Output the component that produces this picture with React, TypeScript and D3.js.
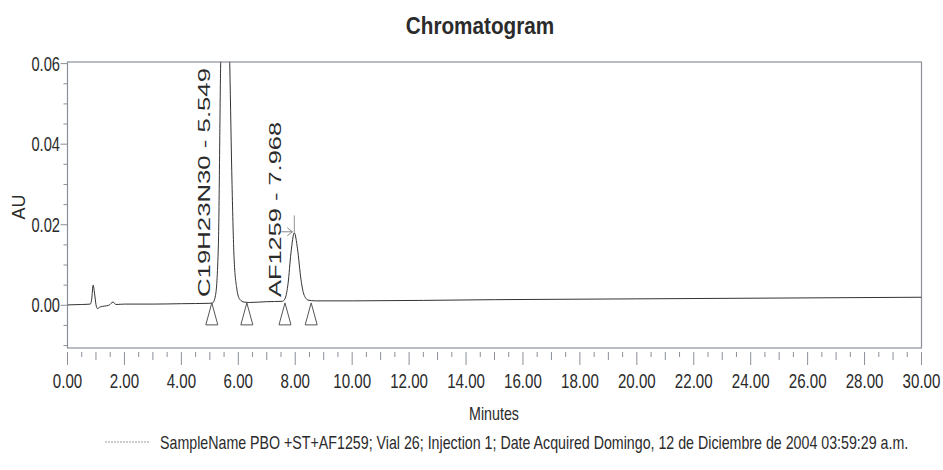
import React from "react";
import * as d3 from "d3";

// Detector trace: retention time (min) and absorbance (AU)
const traceTime = [
  0.0, 0.5, 0.8, 0.85, 0.9, 0.95, 1.0, 1.05, 1.15, 1.3, 1.45, 1.6, 1.7, 2.0, 3.0, 4.0, 5.0,
  5.1, 5.2, 5.3, 5.38, 5.45, 5.549, 5.63, 5.7, 5.78, 5.85, 5.95, 6.05, 6.2, 6.4,
  7.0, 7.55, 7.65, 7.75, 7.85, 7.968, 8.08, 8.2, 8.3, 8.45, 8.7,
  10.0, 15.0, 20.0, 25.0, 30.0,
];
const traceAU = [
  0.0001, 0.0002, 0.0003, 0.0015, 0.005, 0.003, 0.0002, -0.0008, -0.0004, -0.0002, 0.0, 0.0008, 0.0002, 0.0003, 0.0003, 0.0004, 0.0005,
  0.0006, 0.0025, 0.015, 0.06, 0.085, 0.095, 0.085, 0.06, 0.03, 0.012, 0.004, 0.0015, 0.0008, 0.0007,
  0.0009, 0.001, 0.0018, 0.0055, 0.013, 0.018, 0.014, 0.0065, 0.0028, 0.0013, 0.0011,
  0.0011, 0.0014, 0.0016, 0.0018, 0.002,
];

// Integrated peaks
const peakNames = ["C19H23N30", "AF1259"];
const peakRT = [5.549, 7.968];
const peakLabelLen = [229, 175];

// Integration start/end markers (min)
const baselineMarks = [5.07, 6.3, 7.64, 8.56];

// Axis ticks
const xTickLabels = d3.range(0, 30.01, 2);
const yTickLabels = [0.0, 0.02, 0.04, 0.06];

const title = "Chromatogram";
const xTitle = "Minutes";
const yTitle = "AU";
const legendText =
  "SampleName PBO +ST+AF1259; Vial 26; Injection 1; Date Acquired Domingo, 12 de Diciembre de 2004 03:59:29 a.m.";

const W = 943;
const H = 470;
const left = 67.5;
const right = 921.5;
const top = 62;
const bottom = 348;

const font = "'Liberation Sans', Arial, sans-serif";
const axisColor = "#8a8f99";
const textColor = "#2b2b2b";

export default function App() {
  const x = d3.scaleLinear().domain([0, 30]).range([left, right]);
  const y = d3.scaleLinear().domain([-0.0106, 0.0604]).range([bottom, top]);

  const pts: [number, number][] = traceTime.map((t, i) => [t, traceAU[i]]);
  const line = d3
    .line<[number, number]>()
    .x((d) => x(d[0]))
    .y((d) => y(d[1]))
    .curve(d3.curveMonotoneX);

  const xMinor = d3.range(0, 30.001, 0.5);
  const yMinor = d3.range(-0.01, 0.0601, 0.005);

  const peak2Apex = traceAU[traceTime.indexOf(peakRT[1])];

  return (
    <svg width={W} height={H} style={{ display: "block", position: "absolute", left: 0, top: 0, background: "#fff" }}>
      <defs>
        <clipPath id="plotClip">
          <rect x={left} y={top} width={right - left} height={bottom - top} />
        </clipPath>
      </defs>

      <text
        transform={`translate(480,34) scale(0.9,1)`}
        textAnchor="middle"
        fontFamily={font}
        fontWeight="bold"
        fontSize={23}
        fill={textColor}
      >
        {title}
      </text>

      {/* frame */}
      <rect x={left} y={top} width={right - left} height={bottom - top} fill="none" stroke={axisColor} strokeWidth={1.2} />

      {/* y ticks */}
      {yMinor.map((v, i) => {
        const major = yTickLabels.some((t) => Math.abs(t - v) < 1e-9);
        return (
          <line key={"yt" + i} x1={left - (major ? 7 : 4)} x2={left} y1={y(v)} y2={y(v)} stroke={axisColor} strokeWidth={1} />
        );
      })}
      {yTickLabels.map((v) => (
        <text
          key={"yl" + v}
          transform={`translate(60,${y(v) + 7}) scale(0.7,1)`}
          textAnchor="end"
          fontFamily={font}
          fontSize={21}
          fill={textColor}
        >
          {v.toFixed(2)}
        </text>
      ))}
      <text
        transform={`translate(25,207) rotate(-90)`}
        textAnchor="middle"
        fontFamily={font}
        fontSize={18}
        fill={textColor}
      >
        {yTitle}
      </text>

      {/* x ticks */}
      {xMinor.map((v, i) => {
        const isMajor = Math.abs(v / 2 - Math.round(v / 2)) < 1e-9;
        const isMid = !isMajor && Math.abs(v - Math.round(v)) < 1e-9;
        const len = isMajor ? 13 : isMid ? 8 : 5;
        return <line key={"xt" + i} x1={x(v)} x2={x(v)} y1={352} y2={352 + len} stroke={axisColor} strokeWidth={1} />;
      })}
      {xTickLabels.map((v) => (
        <text
          key={"xl" + v}
          transform={`translate(${x(v)},388) scale(0.72,1)`}
          textAnchor="middle"
          fontFamily={font}
          fontSize={21}
          fill={textColor}
        >
          {v.toFixed(2)}
        </text>
      ))}
      <text
        transform={`translate(494,420) scale(0.75,1)`}
        textAnchor="middle"
        fontFamily={font}
        fontSize={19}
        fill={textColor}
      >
        {xTitle}
      </text>

      {/* trace */}
      <g clipPath="url(#plotClip)">
        <path d={line(pts) ?? ""} fill="none" stroke="#333" strokeWidth={1} />
      </g>

      {/* integration markers */}
      {baselineMarks.map((t, i) => {
        const cx = x(t);
        const y0 = y(0.0006);
        return (
          <path
            key={"bm" + i}
            d={`M${cx},${y0} L${cx - 6},${y0 + 22} L${cx + 6},${y0 + 22} Z`}
            fill="none"
            stroke="#555"
            strokeWidth={1}
          />
        );
      })}

      {/* peak-2 apex marker */}
      <line x1={x(peakRT[1])} x2={x(peakRT[1])} y1={y(0.0223)} y2={y(peak2Apex)} stroke="#777" strokeWidth={0.8} />
      <line x1={x(peakRT[1]) - 13} x2={x(peakRT[1]) - 2} y1={y(peak2Apex) - 1} y2={y(peak2Apex) - 1} stroke="#666" strokeWidth={0.8} />
      <path
        d={`M${x(peakRT[1]) - 7},${y(peak2Apex) - 5} L${x(peakRT[1]) - 2},${y(peak2Apex) - 1} L${x(peakRT[1]) - 7},${y(peak2Apex) + 3}`}
        fill="none"
        stroke="#666"
        strokeWidth={0.8}
      />

      {/* peak labels */}
      {peakNames.map((n, i) => (
        <text
          key={"pk" + i}
          transform={`translate(${x(peakRT[i]) - (i === 0 ? 15 : 13)},297) rotate(-90)`}
          fontFamily={font}
          fontSize={16}
          fill={textColor}
          textLength={peakLabelLen[i]}
          lengthAdjust="spacingAndGlyphs"
        >
          {`${n} - ${peakRT[i].toFixed(3)}`}
        </text>
      ))}

      {/* legend */}
      <line x1={105} x2={150} y1={442} y2={442} stroke="#999" strokeWidth={1} strokeDasharray="2,1" />
      <text
        transform={`translate(160,449) scale(0.79,1)`}
        fontFamily={font}
        fontSize={18}
        fill={textColor}
      >
        {legendText}
      </text>
    </svg>
  );
}
